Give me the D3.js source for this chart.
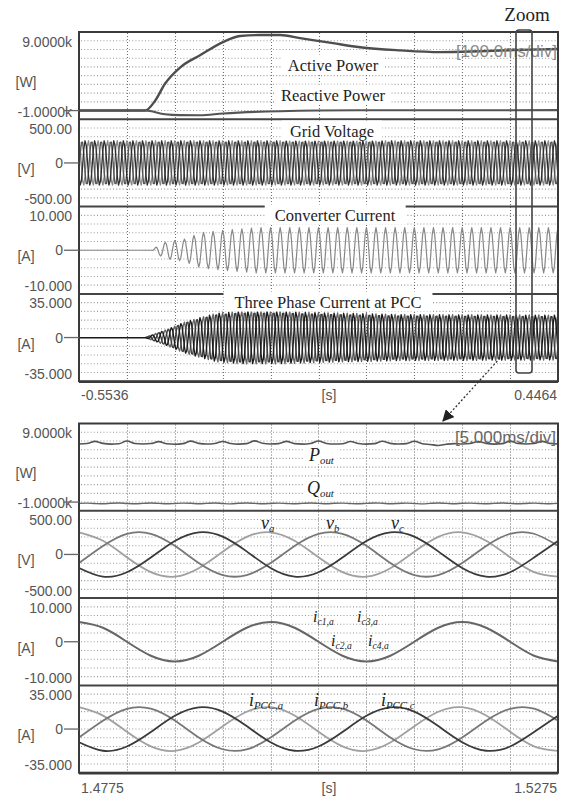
<!DOCTYPE html>
<html>
<head>
<meta charset="utf-8">
<script src="https://cdn.jsdelivr.net/npm/d3@7"></script>
<style>
  body { margin: 0; background: #fff; }
  svg { display: block; }
</style>
</head>
<body>
<svg id="chart" width="571" height="800"></svg>
<script>
// ---------- overview panel (top) ----------
var overviewRange = [-0.5536, 0.4464];
var overviewXLabels = ["-0.5536", "[s]", "0.4464"];
var activeTime  = [-0.5536, -0.4158, -0.395, -0.3741, -0.3427, -0.301, -0.253, -0.2175, -0.1757, -0.134, -0.0922, -0.0233, 0.0331, 0.1165, 0.2, 0.2836, 0.3671, 0.4464];
var activePower = [0, 0, 1100, 3070, 4930, 6330, 7840, 8540, 8650, 8650, 8300, 7720, 7260, 6900, 6700, 6800, 6950, 7050];
var reactiveTime  = [-0.5536, -0.4158, -0.3741, -0.3427, -0.301, -0.253, -0.134, 0.0331, 0.4464];
var reactivePower = [0, 0, -420, -520, -530, -330, -70, 30, 50];
// envelopes of the dense 50 Hz traces
var convEnvTime = [-0.5536, -0.4012, -0.39, -0.37, -0.335, -0.30, -0.25, -0.18, 0.4464];
var convEnvAmp  = [0, 0, 1, 2, 2.5, 4, 4.6, 5.2, 5.2];
var pccEnvTime = [-0.5536, -0.4158, -0.3949, -0.3699, -0.3365, -0.301, -0.2655, -0.2175, -0.134, -0.0505, 0.1165, 0.4464];
var pccEnvAmp  = [0, 0, 3, 6.5, 12, 16, 19.5, 21, 21, 20, 18.5, 18];

// ---------- zoomed panel (bottom), one reading every 2.5 ms ----------
var zoomRange = [1.4775, 1.5275];
var zoomXLabels = ["1.4775", "[s]", "1.5275"];
var vA = [254, 157, -32, -202, -254, -157, 32, 202, 254, 157, -32, -202, -254, -157, 32, 202, 254, 157, -32, -202, -254];
var vB = [-99, 97, 236, 237, 99, -97, -236, -237, -99, 97, 236, 237, 99, -97, -236, -237, -99, 97, 236, 237, 99];
var vC = [-155, -254, -204, -35, 155, 254, 204, 35, -155, -254, -204, -35, 155, 254, 204, 35, -155, -254, -204, -35, 155];
var iConv = [4.5, 3.2, 0, -3.2, -4.5, -3.2, 0, 3.2, 4.5, 3.2, 0, -3.2, -4.5, -3.2, 0, 3.2, 4.5, 3.2, 0, -3.2, -4.5];
var iPccA = [17.5, 10.8, -2.2, -13.9, -17.5, -10.8, 2.2, 13.9, 17.5, 10.8, -2.2, -13.9, -17.5, -10.8, 2.2, 13.9, 17.5, 10.8, -2.2, -13.9, -17.5];
var iPccB = [-6.8, 6.7, 16.2, 16.3, 6.8, -6.7, -16.2, -16.3, -6.8, 6.7, 16.2, 16.3, 6.8, -6.7, -16.2, -16.3, -6.8, 6.7, 16.2, 16.3, 6.8];
var iPccC = [-10.6, -17.4, -14.0, -2.4, 10.6, 17.4, 14.0, 2.4, -10.6, -17.4, -14.0, -2.4, 10.6, 17.4, 14.0, 2.4, -10.6, -17.4, -14.0, -2.4, 10.6];
// powers, one reading every 1/1200 s
var pOut = [6650, 6700, 6950, 6720, 6640, 6680, 7000, 6700, 6650, 6700, 6920, 6680, 6630, 6690, 6980, 6720,
            6650, 6710, 6940, 6700, 6640, 6690, 7010, 6730, 6660, 6700, 6950, 6690, 6640, 6700, 6990, 6710,
            6650, 6680, 6930, 6700, 6640, 6690, 6970, 6720, 6660, 6700, 6960, 6690, 6600, 6480, 6620, 6700,
            6650, 6700, 6940, 6720, 6640, 6690, 6980, 6700, 6650, 6700, 6950, 6720, 6660];
var qOut = [-150, -120, -170, -200, -140, -110, -160, -190, -150, -100, -150, -200, -160, -120, -140, -190,
            -150, -110, -170, -210, -140, -100, -150, -190, -160, -120, -160, -200, -150, -110, -150, -190,
            -140, -120, -170, -200, -150, -100, -140, -190, -160, -120, -160, -210, -150, -110, -150, -190,
            -140, -120, -160, -200, -150, -100, -150, -190, -160, -120, -170, -200, -150];

// ---------- trace rows (same in both panels) ----------
var rowTopLabels = ["9.0000k", "500.00", "10.000", "35.000"];
var rowBottomLabels = ["-1.0000k", "-500.00", "-10.000", "-35.000"];
var rowUnits = ["[W]", "[V]", "[A]", "[A]"];
var rowMin = [-1000, -500, -10, -35];
var rowMax = [9000, 500, 10, 35];

var svg = d3.select("#chart");
var plotL = 79, plotR = 558, subH = 87.3;
var sans = "'Liberation Sans', Arial, sans-serif";
var serif = "'Liberation Serif', 'Times New Roman', serif";

svg.append("rect").attr("width", 571).attr("height", 800).attr("fill", "#fff");

var defs = svg.append("defs");
defs.append("marker").attr("id", "arrow")
    .attr("viewBox", "0 0 10 10").attr("refX", 9).attr("refY", 5)
    .attr("markerWidth", 9).attr("markerHeight", 9).attr("orient", "auto")
  .append("path").attr("d", "M0,0 L10,5 L0,10 Z").attr("fill", "#222");

function makePanel(top, range) {
  var x = d3.scaleLinear().domain(range).range([plotL, plotR]);
  var ys = rowMax.map(function(mx, i) {
    return d3.scaleLinear().domain([rowMin[i], mx]).range([top + (i + 1) * subH, top + i * subH]);
  });
  return {x: x, ys: ys, top: top, bottom: top + 4 * subH, g: svg.append("g")};
}

function drawGrid(p) {
  var g = p.g.append("g");
  p.ys.forEach(function(y) {
    var d = y.domain();
    d3.range(1, 10).forEach(function(k) {
      var yy = y(d[0] + (d[1] - d[0]) * k / 10);
      g.append("line").attr("x1", plotL + 2).attr("x2", plotR - 1).attr("y1", yy).attr("y2", yy)
        .attr("stroke", "#999").attr("stroke-width", 1.1).attr("stroke-dasharray", "1,2.2");
    });
  });
  var r = p.x.domain();
  d3.range(1, 10).forEach(function(k) {
    var xx = Math.round(p.x(r[0] + (r[1] - r[0]) * k / 10)) + 0.5;
    g.append("line").attr("x1", xx).attr("x2", xx).attr("y1", p.top + 1).attr("y2", p.bottom - 1)
      .attr("stroke", "#707070").attr("stroke-width", 1.1).attr("stroke-dasharray", "1,2");
  });
}

function drawDividers(p) {
  p.ys.slice(1).forEach(function(y) {
    var yy = y.range()[1];
    p.g.append("line").attr("x1", plotL).attr("x2", plotR).attr("y1", yy).attr("y2", yy)
      .attr("stroke", "#444").attr("stroke-width", 2);
  });
}

function drawFrame(p) {
  p.g.append("rect").attr("x", plotL).attr("y", p.top).attr("width", plotR - plotL).attr("height", p.bottom - p.top)
    .attr("fill", "none").attr("stroke", "#3a3a3a").attr("stroke-width", 2);
  p.g.append("line").attr("x1", plotL).attr("x2", plotR).attr("y1", p.bottom + 1).attr("y2", p.bottom + 1)
    .attr("stroke", "#3a3a3a").attr("stroke-width", 1.5);
}

function drawAxes(p, xLabels, labelY) {
  var g = p.g.append("g").attr("font-family", sans).attr("font-size", 14).attr("fill", "#555");
  p.ys.forEach(function(y, i) {
    var yTop = y.range()[1], yBot = y.range()[0];
    g.append("text").attr("x", 72).attr("y", yTop + 14.5).attr("text-anchor", "end").text(rowTopLabels[i]);
    g.append("text").attr("x", 72).attr("y", yBot - 2.5).attr("text-anchor", "end").text(rowBottomLabels[i]);
    g.append("text").attr("x", 26).attr("y", (yTop + yBot) / 2 + 11).attr("text-anchor", "middle").text(rowUnits[i]);
    g.append("line").attr("x1", 64).attr("x2", plotL).attr("y1", y(0)).attr("y2", y(0))
      .attr("stroke", "#666").attr("stroke-width", 1.3);
    if (i > 0) g.append("text").attr("x", 63).attr("y", y(0) + 5).attr("text-anchor", "end").text("0");
  });
  g.append("text").attr("x", plotL + 2).attr("y", labelY).text(xLabels[0]);
  g.append("text").attr("x", 329).attr("y", labelY).attr("text-anchor", "middle").text(xLabels[1]);
  g.append("text").attr("x", plotR - 1).attr("y", labelY).attr("text-anchor", "end").text(xLabels[2]);
}

function trace(p, row, xs, vals, color, width, curve) {
  var line = d3.line().x(function(d, i) { return p.x(xs[i]); })
    .y(function(d) { return p.ys[row](d); }).curve(curve || d3.curveLinear);
  p.g.append("path").datum(vals).attr("d", line).attr("fill", "none")
    .attr("stroke", color).attr("stroke-width", width).attr("stroke-linejoin", "round");
}

function title(p, txt, cx, cy, padX) {
  var t = p.g.append("text").attr("x", cx).attr("y", cy + 5.5).attr("text-anchor", "middle")
    .attr("font-family", serif).attr("font-size", 16.5).attr("fill", "#1e1e1e").text(txt);
  var b = t.node().getBBox();
  p.g.insert("rect", function() { return t.node(); })
    .attr("x", b.x - padX).attr("y", b.y - 1).attr("width", b.width + 2 * padX).attr("height", b.height + 1)
    .attr("fill", "#fff");
}

function subLabel(p, main, sub, x, y, size, box) {
  var t = p.g.append("text").attr("x", x).attr("y", y).attr("font-family", serif)
    .attr("font-style", "italic").attr("font-size", size).attr("fill", "#222");
  t.append("tspan").text(main);
  t.append("tspan").attr("font-size", size * 0.6).attr("dy", 3).text(sub);
  if (box) {
    var b = t.node().getBBox();
    p.g.insert("rect", function() { return t.node(); })
      .attr("x", b.x - 3).attr("y", b.y).attr("width", b.width + 6).attr("height", b.height - 2)
      .attr("fill", "#fff");
  }
}

// ================= top panel =================
var over = makePanel(32, overviewRange);
drawGrid(over);
drawDividers(over);

var stepT = 0.0025;
var overT = d3.range(0, 401).map(function(k) { return overviewRange[0] + k * stepT; });
var convEnv = d3.scaleLinear().domain(convEnvTime).range(convEnvAmp).clamp(true);
var pccEnv = d3.scaleLinear().domain(pccEnvTime).range(pccEnvAmp).clamp(true);

trace(over, 0, activeTime, activePower, "#4e4e4e", 2.4, d3.curveMonotoneX);
trace(over, 0, reactiveTime, reactivePower, "#555", 2.1, d3.curveMonotoneX);

[[vA, "#8a8a8a"], [vB, "#555"], [vC, "#2e2e2e"]].forEach(function(ph) {
  trace(over, 1, overT, overT.map(function(t, k) { return ph[0][k % 8]; }), ph[1], 1.3);
});
trace(over, 2, overT, overT.map(function(t, k) { return convEnv(t) * iConv[k % 8] / 4.5; }), "#888", 1.2);
[[iPccA, "#666"], [iPccB, "#3c3c3c"], [iPccC, "#1a1a1a"]].forEach(function(ph) {
  trace(over, 3, overT, overT.map(function(t, k) { return pccEnv(t) * ph[0][k % 8] / 17.5; }), ph[1], 1.35);
});

title(over, "Active Power", 333, 65, 6);
title(over, "Reactive Power", 333, 95, 6);
title(over, "Grid Voltage", 332, 131, 8);
title(over, "Converter Current", 335, 215, 10);
title(over, "Three Phase Current at PCC", 328, 302, 11);
over.g.append("text").attr("x", plotR - 1).attr("y", 57).attr("text-anchor", "end")
  .attr("font-family", sans).attr("font-size", 17).attr("fill", "#8a8a8a").text("[100.0ms/div]");
drawFrame(over);
drawAxes(over, overviewXLabels, 400);

// ================= bottom panel =================
var zoom = makePanel(423.5, zoomRange);
drawGrid(zoom);
drawDividers(zoom);

var zoomT = vA.map(function(d, k) { return zoomRange[0] + k * stepT; });
var powT = pOut.map(function(d, k) { return zoomRange[0] + k / 1200; });

trace(zoom, 0, powT, pOut, "#555", 1.6, d3.curveMonotoneX);
trace(zoom, 0, powT, qOut, "#666", 1.4, d3.curveMonotoneX);
trace(zoom, 1, zoomT, vA, "#a0a0a0", 1.8, d3.curveNatural);
trace(zoom, 1, zoomT, vB, "#777", 1.8, d3.curveNatural);
trace(zoom, 1, zoomT, vC, "#3a3a3a", 1.8, d3.curveNatural);
trace(zoom, 2, zoomT, iConv, "#666", 2, d3.curveNatural);
trace(zoom, 3, zoomT, iPccA, "#a0a0a0", 1.8, d3.curveNatural);
trace(zoom, 3, zoomT, iPccB, "#777", 1.8, d3.curveNatural);
trace(zoom, 3, zoomT, iPccC, "#3a3a3a", 1.8, d3.curveNatural);

subLabel(zoom, "P", "out", 309, 461, 18, true);
subLabel(zoom, "Q", "out", 307, 494, 18, true);
subLabel(zoom, "v", "a", 261, 529, 18);
subLabel(zoom, "v", "b", 326, 529, 18);
subLabel(zoom, "v", "c", 391, 529, 18);
subLabel(zoom, "i", "c1,a", 313, 622, 16);
subLabel(zoom, "i", "c3,a", 357, 622, 16);
subLabel(zoom, "i", "c2,a", 331, 646, 16);
subLabel(zoom, "i", "c4,a", 368, 646, 16);
subLabel(zoom, "i", "PCC,a", 249, 706, 18);
subLabel(zoom, "i", "PCC,b", 314, 706, 18);
subLabel(zoom, "i", "PCC,c", 381, 706, 18);
zoom.g.append("text").attr("x", plotR - 2).attr("y", 443).attr("text-anchor", "end")
  .attr("font-family", sans).attr("font-size", 17).attr("fill", "#666").text("[5.000ms/div]");
drawFrame(zoom);
drawAxes(zoom, zoomXLabels, 793);

// ================= zoom marker =================
svg.append("text").attr("x", 527).attr("y", 21).attr("text-anchor", "middle")
  .attr("font-family", serif).attr("font-size", 19).attr("fill", "#222").text("Zoom");
svg.append("rect").attr("x", 516).attr("y", 30).attr("width", 16).attr("height", 343).attr("rx", 3)
  .attr("fill", "none").attr("stroke", "#444").attr("stroke-width", 1.6);
svg.append("line").attr("x1", 500).attr("y1", 358).attr("x2", 443).attr("y2", 421)
  .attr("stroke", "#333").attr("stroke-width", 1.3).attr("stroke-dasharray", "2,2")
  .attr("marker-end", "url(#arrow)");
</script>
</body>
</html>
